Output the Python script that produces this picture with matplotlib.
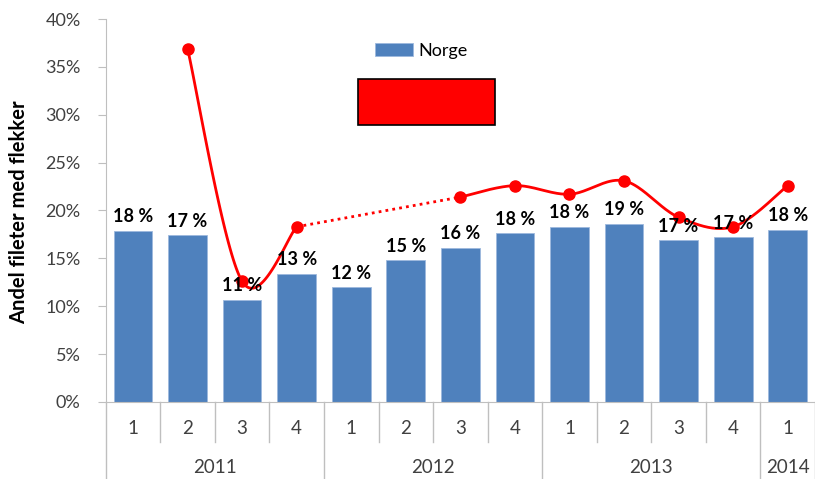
import numpy as np
import matplotlib
matplotlib.use("Agg")
import matplotlib.pyplot as plt
from matplotlib.patches import Rectangle
from matplotlib.transforms import blended_transform_factory

plt.rcParams['font.family'] = ['Lato', 'DejaVu Sans']

quarters = ['1', '2', '3', '4', '1', '2', '3', '4', '1', '2', '3', '4', '1']
years = ['2011', '2012', '2013', '2014']
year_counts = [4, 4, 4, 1]
norge = [17.9, 17.4, 10.7, 13.4, 12.0, 14.8, 16.1, 17.6, 18.3, 18.6, 16.9, 17.2, 18.0]
red_series = [np.nan, 36.9, 12.6, 18.3, np.nan, np.nan, 21.4, 22.6, 21.7, 23.1, 19.3, 18.3, 22.6]

BLUE = '#4F81BD'
RED = '#FF0000'
GRAY = '#BFBFBF'
TXT = '#404040'

fig = plt.figure(figsize=(8.15, 4.79), dpi=100)
ax = fig.add_axes([0.1297, 0.1608, 0.8703, 0.7995])

x = np.arange(len(quarters))
ax.bar(x, norge, width=0.71, color=BLUE, edgecolor='#9DB9DD', linewidth=0.6, zorder=2, label='Norge')

def smooth(xs, ys, n=40):
    xs = np.asarray(xs, float); ys = np.asarray(ys, float)
    px, py = [], []
    m = len(xs)
    for i in range(m - 1):
        p0 = (xs[max(i - 1, 0)], ys[max(i - 1, 0)])
        p1 = (xs[i], ys[i]); p2 = (xs[i + 1], ys[i + 1])
        p3 = (xs[min(i + 2, m - 1)], ys[min(i + 2, m - 1)])
        c1 = (p1[0] + (p2[0] - p0[0]) / 6, p1[1] + (p2[1] - p0[1]) / 6)
        c2 = (p2[0] - (p3[0] - p1[0]) / 6, p2[1] - (p3[1] - p1[1]) / 6)
        t = np.linspace(0, 1, n)
        bx = (1-t)**3*p1[0] + 3*(1-t)**2*t*c1[0] + 3*(1-t)*t**2*c2[0] + t**3*p2[0]
        by = (1-t)**3*p1[1] + 3*(1-t)**2*t*c1[1] + 3*(1-t)*t**2*c2[1] + t**3*p2[1]
        px.extend(bx); py.extend(by)
    return np.array(px), np.array(py)

r = np.array(red_series, float)
valid = ~np.isnan(r)
segs = []
cur = []
for i in range(len(r)):
    if valid[i]:
        cur.append(i)
    else:
        if cur:
            segs.append(cur); cur = []
if cur:
    segs.append(cur)
for s in segs:
    sx, sy = smooth(x[s], r[s])
    ax.plot(sx, sy, color=RED, lw=2, zorder=3, solid_capstyle='round')
for a, b in zip(segs[:-1], segs[1:]):
    ax.plot([x[a[-1]], x[b[0]]], [r[a[-1]], r[b[0]]], color=RED, lw=2, ls=(0, (1, 1.5)), zorder=3)
ax.plot(x[valid], r[valid], ls='none', marker='o', ms=8, color=RED, zorder=3)

for xi, v in zip(x, norge):
    ax.annotate(f"{v:.0f} %", (xi, v), xytext=(0, 4), textcoords='offset points',
                ha='center', va='bottom', fontsize=13, fontweight='bold', color='black', zorder=5)

ax.set_xlim(-0.5, len(quarters) - 0.5)
ax.set_ylim(0, 40)
ax.set_yticks(np.arange(0, 41, 5))
ax.set_yticklabels([f"{t}%" for t in range(0, 41, 5)], fontsize=13, color=TXT)
ax.tick_params(axis='y', length=6, color=GRAY, pad=12)
ax.set_xticks([])
for sp in ['top', 'right']:
    ax.spines[sp].set_visible(False)
ax.spines['left'].set_color(GRAY)
ax.spines['bottom'].set_color(GRAY)
ax.set_ylabel('Andel fileter med flekker', fontsize=14.5, fontweight='bold')
ax.yaxis.set_label_coords(-0.108, 0.496)

# two-level category axis
tr = blended_transform_factory(ax.transData, ax.transAxes)
axh = 0.7995 * 479
q_end = -40 / axh
y_end = -80 / axh
boundaries = np.arange(len(quarters) + 1) - 0.5
year_bounds = np.concatenate([[0], np.cumsum(year_counts)]) - 0.5
for b in boundaries:
    is_year = np.any(np.isclose(b, year_bounds))
    ax.plot([b, b], [0, y_end if is_year else q_end], color=GRAY, lw=1, transform=tr, clip_on=False)
for xi, q in zip(x, quarters):
    ax.text(xi, -27 / axh, q, transform=tr, ha='center', va='center', fontsize=13.5, color=TXT)
for yb0, yb1, yl in zip(year_bounds[:-1], year_bounds[1:], years):
    ax.text((yb0 + yb1) / 2, -66 / axh, yl, transform=tr, ha='center', va='center', fontsize=13.5, color=TXT)

leg = fig.legend(handles=[ax.patches[0]], labels=['Norge'], loc='center',
                 bbox_to_anchor=(0.517, 0.894), frameon=False, fontsize=13,
                 handlelength=2.1, handleheight=0.7, handletextpad=0.3)
fig.patches.append(Rectangle((358 / 815, 1 - 125 / 479), 137 / 815, 46 / 479,
                             transform=fig.transFigure, facecolor=RED, edgecolor='black', lw=1.2))

fig.savefig('out.png', dpi=100)
